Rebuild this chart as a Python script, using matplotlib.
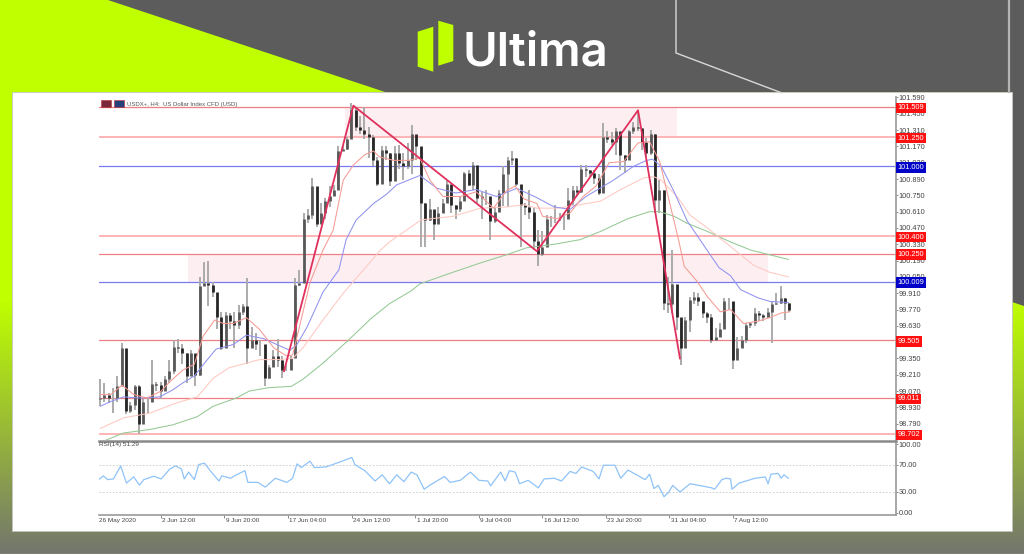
import numpy as np
import matplotlib
matplotlib.use('Agg')
import matplotlib.pyplot as plt
from matplotlib.colors import LinearSegmentedColormap
from matplotlib.patches import Polygon, Rectangle
from matplotlib.transforms import Bbox

#------------------------------------------------------------#
# STEP 1: values                          #
#------------------------------------------------------------#

# candles, one for every third H4 bar
closes = [99.01, 99.04, 99.01, 99.01, 99.11, 99.44, 98.90, 98.95, 99.11, 98.79, 98.98, 98.98, 99.13, 99.12, 99.07, 99.17,
          99.24, 99.45, 99.44, 99.40, 99.20, 99.40, 99.21, 99.97, 100.00, 99.98, 99.92, 99.71, 99.44, 99.72, 99.67, 99.64,
          99.75, 99.80, 99.44, 99.51, 99.47, 99.47, 99.18, 99.28, 99.37, 99.34, 99.25, 99.25, 99.35, 99.98, 100.00,
          100.55, 100.58, 100.83, 100.50, 100.60, 100.70, 100.74, 100.80, 101.13, 101.15, 101.23, 101.48, 101.34, 101.31,
          101.28, 101.25, 101.05, 100.85, 101.14, 101.11,
          100.87, 101.11, 101.03, 101.00, 101.05, 101.28, 101.17, 100.68, 100.54, 100.63, 100.50, 100.60, 100.68, 100.85,
          100.67, 100.63, 100.70, 100.94, 100.84, 101.01, 100.73, 100.74, 100.74, 100.53, 100.61, 100.77, 100.93, 101.05,
          101.07, 100.85, 100.67, 100.65, 100.61, 100.36, 100.25, 100.31, 100.55, 100.55, 100.55, 100.55, 100.55, 100.71,
          100.80, 100.78, 100.98, 100.97, 100.94, 100.90, 100.77, 101.25, 101.23, 101.21, 101.30, 101.10, 101.05, 101.30,
          101.34, 101.33, 101.21, 101.11, 101.28, 100.71,
          100.80, 99.83, 99.82, 99.99, 99.71, 99.44, 99.68, 99.85, 99.88, 99.84, 99.74, 99.71, 99.51, 99.53, 99.60, 99.84,
          99.84, 99.34, 99.44, 99.51, 99.64, 99.65, 99.74, 99.72, 99.71, 99.75, 99.82, 99.83, 99.87, 99.83, 99.77]
highs = [99.17, 99.14, 99.05, 99.10, 99.20, 99.48, 99.25, 98.98, 99.12, 99.12, 99.00, 99.02, 99.34, 99.15, 99.15, 99.20,
         99.34, 99.51, 99.52, 99.47, 99.40, 99.42, 99.37, 100.05, 100.18, 100.19, 100.01, 99.77, 99.75, 99.75, 99.74, 99.75,
         99.81, 99.82, 100.04, 99.62, 99.57, 99.51, 99.28, 99.29, 99.42, 99.52, 99.37, 99.29, 99.37, 100.04, 100.11,
         100.60, 100.63, 100.90, 100.55, 100.68, 100.73, 100.83, 100.84, 101.17, 101.17, 101.25, 101.54, 101.51, 101.43,
         101.51, 101.34, 101.27, 101.08, 101.17, 101.17,
         101.11, 101.17, 101.18, 101.11, 101.20, 101.35, 101.18, 101.08, 100.68, 100.72, 100.54, 100.65, 100.72, 100.88,
         100.77, 100.67, 100.74, 100.95, 100.97, 101.04, 100.80, 100.78, 100.80, 100.68, 100.64, 100.80, 101.00, 101.08,
         101.13, 101.07, 100.72, 100.68, 100.80, 100.64, 100.45, 100.44, 100.58, 100.57, 100.67, 100.60, 100.60, 100.81,
         100.83, 100.83, 101.01, 101.01, 100.97, 100.97, 100.93, 101.37, 101.30, 101.29, 101.33, 101.27, 101.10, 101.31,
         101.38, 101.47, 101.33, 101.24, 101.31, 101.28,
         100.88, 100.80, 100.05, 100.28, 99.91, 99.65, 99.71, 99.88, 99.92, 99.91, 99.82, 99.75, 99.73, 99.61, 99.65, 99.87,
         99.87, 99.83, 99.53, 99.54, 99.65, 99.66, 99.78, 99.76, 99.73, 99.78, 99.84, 99.91, 99.97, 99.87, 99.83]
lows = [98.94, 98.98, 98.97, 98.88, 98.98, 99.20, 98.87, 98.88, 98.91, 98.70, 98.90, 98.88, 98.98, 99.07, 99.00, 99.11,
        99.14, 99.22, 99.40, 99.30, 99.14, 99.27, 99.11, 99.20, 99.98, 99.80, 99.88, 99.60, 99.42, 99.61, 99.60, 99.44,
        99.60, 99.72, 99.30, 99.47, 99.42, 99.37, 99.11, 99.17, 99.32, 99.28, 99.18, 99.24, 99.25, 99.35, 99.97,
        100.31, 100.51, 100.55, 100.48, 100.51, 100.55, 100.65, 100.74, 100.80, 101.13, 101.14, 101.25, 101.30, 101.28,
        101.23, 101.07, 101.00, 100.83, 101.08, 101.05,
        100.83, 100.94, 100.98, 100.88, 100.98, 100.93, 101.05, 100.31, 100.31, 100.53, 100.37, 100.53, 100.60, 100.68,
        100.60, 100.55, 100.61, 100.74, 100.83, 100.80, 100.68, 100.55, 100.67, 100.37, 100.51, 100.63, 100.66, 100.65,
        101.01, 100.83, 100.31, 100.58, 100.55, 100.28, 100.14, 100.23, 100.49, 100.48, 100.51, 100.53, 100.45, 100.55,
        100.67, 100.74, 100.77, 100.91, 100.91, 100.85, 100.75, 100.77, 101.20, 101.18, 101.10, 100.97, 100.94, 101.05,
        101.28, 101.30, 101.14, 101.08, 101.10, 100.60,
        100.60, 99.77, 99.74, 99.74, 99.59, 99.29, 99.51, 99.58, 99.82, 99.80, 99.70, 99.65, 99.48, 99.50, 99.54, 99.64,
        99.77, 99.26, 99.35, 99.45, 99.48, 99.61, 99.63, 99.67, 99.67, 99.70, 99.48, 99.81, 99.82, 99.68, 99.75]

# moving averages: bar number and price
red_bars = [1, 8, 16, 24, 33, 43, 49, 58, 66, 72, 80, 86, 93, 102, 111, 121, 130, 134, 146, 155, 162, 169, 176, 184, 190,
            194, 204, 214, 222, 229, 238, 250, 261, 273, 282, 288, 294, 303, 307, 317, 326, 335, 344, 353, 363, 373, 381,
            388, 395, 401, 405, 414, 421, 430, 437, 446, 456, 464, 472, 478]
red_vals = [99.04, 99.04, 99.12, 99.04, 99.01, 99.07, 99.15, 99.25, 99.30, 99.54, 99.68, 99.65, 99.65, 99.70, 99.60, 99.44,
            99.37, 99.38, 100.00, 100.28, 100.45, 100.88, 101.01, 101.10, 101.13, 101.08, 101.05, 101.05, 101.07, 100.88,
            100.74, 100.74, 100.78, 100.64, 100.79, 100.83, 100.72, 100.68, 100.57, 100.55, 100.60, 100.74, 100.83, 101.03,
            101.04, 101.20, 101.21, 101.04, 100.68, 100.37, 100.14, 100.01, 99.88, 99.75, 99.77, 99.65, 99.67, 99.70, 99.74, 99.75]
blue_bars = [1, 8, 17, 29, 42, 51, 58, 66, 73, 81, 93, 102, 114, 123, 132, 137, 144, 155, 166, 171, 178, 190, 199, 206, 222,
             234, 247, 261, 275, 289, 303, 315, 326, 337, 356, 370, 379, 383, 389, 398, 407, 418, 429, 437, 444, 456, 464, 477]
blue_vals = [98.94, 98.98, 99.02, 99.01, 99.02, 99.08, 99.14, 99.20, 99.31, 99.43, 99.47, 99.55, 99.52, 99.47, 99.42, 99.47,
             99.62, 99.92, 100.11, 100.37, 100.54, 100.68, 100.76, 100.84, 100.92, 100.81, 100.77, 100.80, 100.74, 100.81,
             100.73, 100.65, 100.63, 100.74, 100.88, 101.00, 101.05, 101.06, 101.00, 100.78, 100.53, 100.33, 100.13, 100.06,
             99.94, 99.87, 99.84, 99.83]
pink_bars = [1, 17, 35, 54, 68, 79, 90, 102, 111, 123, 134, 141, 155, 169, 183, 194, 201, 223, 245, 264, 282, 294, 303, 317,
             333, 347, 361, 377, 384, 389, 400, 409, 421, 430, 444, 453, 464, 477]
pink_vals = [98.75, 98.84, 98.88, 98.97, 99.02, 99.18, 99.27, 99.31, 99.34, 99.34, 99.35, 99.44, 99.68, 99.91, 100.11, 100.27,
             100.35, 100.54, 100.57, 100.64, 100.65, 100.67, 100.64, 100.64, 100.67, 100.70, 100.80, 100.90, 100.91, 100.88,
             100.74, 100.58, 100.47, 100.38, 100.24, 100.15, 100.09, 100.05]
green_bars = [5, 17, 35, 51, 68, 79, 95, 104, 118, 133, 141, 155, 172, 188, 201, 216, 222, 245, 264, 282, 296, 315, 333, 347,
              366, 381, 388, 398, 407, 421, 437, 451, 477]
green_vals = [98.65, 98.71, 98.74, 98.78, 98.85, 98.94, 99.01, 99.07, 99.10, 99.11, 99.17, 99.31, 99.50, 99.69, 99.82, 99.93,
              99.99, 100.09, 100.17, 100.24, 100.30, 100.33, 100.37, 100.44, 100.55, 100.61, 100.61, 100.57, 100.51, 100.44,
              100.35, 100.28, 100.20]

# RSI(14)
rsi_bars = [0, 3, 6, 10, 15, 19, 24, 28, 31, 38, 43, 49, 53, 57, 59, 62, 66, 69, 73, 77, 83, 85, 91, 95, 101, 103, 110, 115,
            122, 130, 134, 137, 140, 146, 149, 157, 167, 175, 177, 184, 191, 196, 201, 206, 211, 216, 220, 225, 229, 239,
            243, 250, 257, 263, 269, 271, 278, 281, 284, 288, 291, 297, 304, 308, 315, 320, 326, 330, 334, 342, 346, 349,
            357, 361, 366, 374, 378, 381, 384, 387, 391, 394, 397, 402, 409, 424, 426, 431, 434, 437, 438, 443, 454, 461,
            463, 465, 470, 472, 474, 477]
rsi_vals = [48.3, 53.5, 48, 49, 68, 43, 52, 40, 48, 53, 49, 63.5, 68, 63.5, 49, 59, 48, 70, 72, 61, 46, 53.5, 50, 55, 61, 44,
            44, 37, 50, 44, 50, 71, 65.6, 75, 65.6, 66.5, 74, 80.4, 70, 61, 46, 55, 42, 55, 45, 59, 55, 34, 40, 52.6, 44, 47,
            59, 47, 46, 39, 59, 46, 61, 59, 42, 47, 36, 49, 50, 46, 60, 57, 66.5, 60, 49, 69, 69, 50, 62, 52.6, 48, 56, 35,
            39.6, 23, 29, 39.6, 30, 42, 36, 34, 48, 50, 49, 34, 43, 50, 52, 42, 56, 57, 50, 55, 50]

# red zigzag
zig_bars = [128, 176, 303, 373, 402]
zig_vals = [99.24, 101.52, 100.27, 101.48, 99.35]

# horizontal levels
red_levels = [101.509, 100.25, 99.505, 99.011]
pale_levels = [101.25, 100.40, 98.702]
blue_levels = [101.0, 100.009]

price_ticks = [101.59, 101.45, 101.31, 101.17, 101.03, 100.89, 100.75, 100.61, 100.47, 100.33, 100.19, 100.05, 99.91, 99.77,
               99.63, 99.49, 99.35, 99.21, 99.07, 98.93, 98.79]
rsi_ticks = [100, 70, 30, 0]
date_labels = ['26 May 2020', '2 Jun 12:00', '9 Jun 20:00', '17 Jun 04:00', '24 Jun 12:00', '1 Jul 20:00', '9 Jul 04:00',
               '16 Jul 12:00', '23 Jul 20:00', '31 Jul 04:00', '7 Aug 12:00']

#------------------------------------------------------------#
# STEP 2: banner background                                  #
#------------------------------------------------------------#

W, H = 1024, 554
plt.rcParams['font.family'] = 'Liberation Sans'
fig = plt.figure(figsize=(W / 100, H / 100), dpi=100)

bg = fig.add_axes([0, 0, 1, 1])
fade = np.clip((np.arange(H) - 300) / 250, 0, 1).reshape(-1, 1)
cmap = LinearSegmentedColormap.from_list('fade', ['#bfff00', '#74776c'])
bg.imshow(fade, cmap=cmap, aspect='auto', extent=(0, W, H, 0), vmin=0, vmax=1)
bg.add_patch(Polygon([(108, 0), (W, 0), (W, 306), (1012, 302), (1012, 92), (385, 92)], fc='#5c5c5c', ec='none'))
bg.plot([676, 676, 782], [0, 53, 93], color='#d8d8d8', lw=1)
bg.plot([1009, 1009], [0, 92], color='#b4b4b4', lw=1.6)
bg.plot([0, W], [553.5, 553.5], color='#a9aaa2', lw=1)
bg.add_patch(Rectangle((12, 92), 999.5, 439, fc='white', ec='#c4c4c0', lw=0.6))

# logo
bg.add_patch(Polygon([(417.7, 31.7), (433.3, 26.7), (433.3, 71.7), (417.7, 66.7)], fc='#bfff00', ec='none'))
bg.add_patch(Polygon([(438.3, 20.7), (453.3, 25), (453.3, 61), (438.3, 65.7)], fc='#bfff00', ec='none'))
bg.text(463, 65, 'Ultima', color='white', fontsize=34, fontweight='semibold', family='Inter', va='baseline', ha='left')

bg.set_xlim(0, W)
bg.set_ylim(H, 0)
bg.axis('off')

#------------------------------------------------------------#
# STEP 3: price panel                                        #
#------------------------------------------------------------#

def panel(left, top, right, bottom):
    return fig.add_axes([left / W, 1 - bottom / H, (right - left) / W, (bottom - top) / H])

ax = panel(99, 97, 896, 440)
ax.patch.set_alpha(0)
ax.set_xlim(0, 551.5)
ax.set_ylim(98.65, 101.594)

# zones
ax.add_patch(Rectangle((170, 101.25), 230, 0.259, fc='#fdeef2', ec='none', zorder=0))
ax.add_patch(Rectangle((61.6, 100.009), 401.4, 0.241, fc='#fdeef2', ec='none', zorder=0))

for level in red_levels:
    ax.axhline(level, color='#f07f85', lw=0.9, zorder=1)
for level in pale_levels:
    ax.axhline(level, color='#ffb4b6', lw=1.4, zorder=1)
for level in blue_levels:
    ax.axhline(level, color='#7a7af0', lw=0.9, zorder=1)

# candles
bars = 0.7 + 3 * np.arange(len(closes))
closes_arr = np.array(closes)
opens_arr = np.r_[99.0, closes_arr[:-1]]
ax.vlines(bars, lows, highs, color='#ababab', lw=1.4, zorder=2)
up = closes_arr >= opens_arr
ax.vlines(bars[up], opens_arr[up], closes_arr[up], color='#585858', lw=2.0, zorder=3)
ax.vlines(bars[~up], closes_arr[~up], opens_arr[~up], color='#262626', lw=2.0, zorder=3)

# moving averages
ax.plot(green_bars, green_vals, color='#94c994', lw=0.75, zorder=4)
ax.plot(pink_bars, pink_vals, color='#ffc8c0', lw=0.75, zorder=4)
ax.plot(blue_bars, blue_vals, color='#9092f0', lw=0.75, zorder=4)
ax.plot(red_bars, red_vals, color='#f59a93', lw=0.75, zorder=4)

ax.plot(zig_bars, zig_vals, color='#e0305c', lw=1.3, zorder=5)

for side in ['left', 'top', 'bottom']:
    ax.spines[side].set_visible(False)
ax.spines['right'].set_color('#9a9a9a')
ax.spines['right'].set_linewidth(1.2)
ax.yaxis.tick_right()
ax.set_yticks(price_ticks)
ax.set_yticklabels(['%.3f' % t for t in price_ticks])
ax.tick_params(axis='y', length=1.2, width=0.6, color='#777777', labelsize=5.3, labelcolor='#444444', pad=0.5)

ax.set_xticks([])

# boxes on the price scale
for level in red_levels + pale_levels + blue_levels:
    box = '#0000c8' if level in blue_levels else '#ff1010'
    ax.annotate('%.3f' % level, xy=(1, level), xycoords=('axes fraction', 'data'), xytext=(1.1, 0),
                textcoords='offset points', va='center_baseline', ha='left', color='white', fontsize=5.3, annotation_clip=False,
                bbox=dict(boxstyle='square,pad=0.25', fc=box, ec='none'))

ax.text(19.2, 101.51, 'USDX+, H4:  US Dollar Index CFD (USD)', fontsize=4.3, color='#555555', va='bottom', ha='left', zorder=6)

# little chart icons in the corner
ax.add_patch(Rectangle((1.5, 101.505), 6.5, 0.065, fc='#7a2a3a', ec='#c03030', lw=0.4, zorder=6))
ax.add_patch(Rectangle((10.5, 101.505), 6.5, 0.065, fc='#28407a', ec='#c03030', lw=0.4, zorder=6))

#------------------------------------------------------------#
# STEP 4: RSI panel                                          #
#------------------------------------------------------------#

rs = panel(99, 441, 896, 515)
rs.patch.set_alpha(0)
rs.set_xlim(0, 551.5)
rs.set_ylim(-3.65, 104.4)
rs.axhline(70, color='#c8c8c8', lw=0.6, ls=(0, (2, 2)))
rs.axhline(30, color='#c8c8c8', lw=0.6, ls=(0, (2, 2)))
rs.plot(rsi_bars, rsi_vals, color='#8fc3f8', lw=0.9)
rs.text(0, 100, 'RSI(14) 51.29', fontsize=4.6, color='#444444', va='center', ha='left')

rs.spines['left'].set_visible(False)
rs.spines['top'].set_color('#8a8a8a')
rs.spines['top'].set_linewidth(1.8)
rs.spines['right'].set_color('#9a9a9a')
rs.spines['right'].set_linewidth(1.2)
rs.spines['bottom'].set_color('#9a9a9a')
rs.spines['bottom'].set_linewidth(1.2)
rs.yaxis.tick_right()
rs.set_yticks(rsi_ticks)
rs.set_yticklabels(['%.2f' % t for t in rsi_ticks])
rs.tick_params(axis='y', length=1.2, width=0.6, color='#777777', labelsize=5.3, labelcolor='#444444', pad=0.5)

tick_bars = -1.25 + 44 * np.arange(len(date_labels))
rs.set_xticks(tick_bars[1:])
rs.set_xticklabels([])
rs.tick_params(axis='x', length=2.5, width=0.6, color='#777777')
for b, label in zip(tick_bars, date_labels):
    t = rs.annotate(label, xy=(b, 0), xycoords=('data', 'axes fraction'), xytext=(1, -2.5), textcoords='offset points',
                    va='top', ha='left', fontsize=4.6, color='#444444', annotation_clip=False)
    t.set_clip_on(True)
    t.set_clip_box(Bbox.from_extents(99, 0, W, H))

fig.savefig('out.png', dpi=100)
